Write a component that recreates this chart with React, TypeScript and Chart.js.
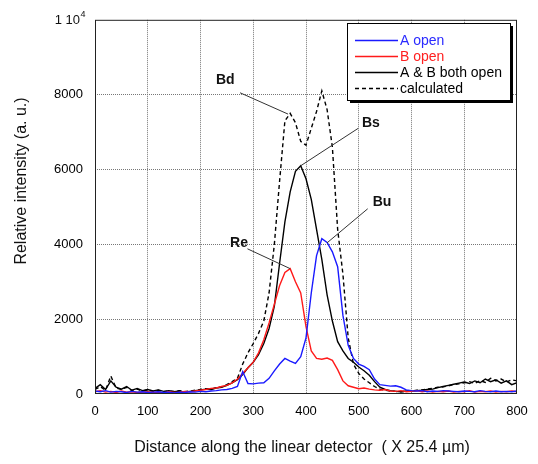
import React, { useEffect, useRef } from "react";
import { Chart, registerables } from "chart.js";

Chart.register(...registerables);

const xs = [0,10,20,30,40,50,60,70,80,90,100,110,120,130,140,150,160,170,180,190,200,210,220,230,240,250,260,270,280,290,300,310,320,330,340,350,360,370,380,390,400,410,420,430,440,450,460,470,480,490,500,510,520,530,540,550,560,570,580,590,600,610,620,630,640,650,660,670,680,690,700,710,720,730,740,750,760,770,780,790,800];

const aOpen = [80,60,90,50,70,60,40,70,50,60,40,50,60,40,50,30,50,40,60,50,70,60,80,90,110,120,150,200,600,280,270,290,300,420,620,800,950,880,820,1000,1500,2700,3700,4150,4050,3800,3400,2100,1300,950,800,740,650,400,250,230,210,220,180,110,90,80,90,60,80,70,90,80,70,60,80,70,60,90,70,60,80,60,70,60,80];

const bOpen = [60,90,50,70,40,80,50,60,40,50,60,40,50,30,60,40,50,70,60,80,100,120,150,160,200,230,300,400,550,700,850,1100,1450,1900,2400,2900,3250,3350,3000,2700,1800,1150,950,930,960,900,650,350,220,180,140,160,130,110,100,120,80,70,90,60,70,90,60,80,50,70,60,80,50,70,60,90,50,70,60,80,50,70,60,80,60];

const bothOpen = [150,250,120,350,180,130,200,100,150,90,120,80,110,70,90,60,80,50,70,90,110,130,120,160,180,230,300,380,520,700,850,1050,1350,1750,2350,3500,4600,5400,5950,6100,5750,5200,4400,3600,2650,1950,1400,1150,950,850,720,620,500,330,180,120,90,70,60,80,70,90,100,120,130,170,200,230,260,290,320,280,350,300,400,330,380,290,350,250,300];

const calculated = [120,200,100,480,160,120,180,90,130,80,110,70,100,60,80,70,90,60,80,100,120,140,130,170,190,250,330,420,800,1100,1350,1620,1950,2700,4000,5700,7300,7500,7250,6750,6650,7100,7550,8100,7600,6600,4400,3200,1500,800,550,400,300,200,130,100,80,70,60,70,80,100,110,130,150,180,190,220,250,270,300,330,280,360,310,420,350,400,320,380,350];

const seriesLabels = ["A open", "B open", "A & B both open", "calculated"];

// annotation labels: [text, textX, textY, lineStartX, lineStartY, targetX, targetY] in data units
const annotations: [string, number, number, number, number, number, number][] = [
  ["Bd", 247, 8400, 275, 8050, 366, 7480],
  ["Bs", 523, 7250, 499, 7100, 390, 6100],
  ["Bu", 544, 5130, 517, 4950, 440, 4040],
  ["Re", 273, 4030, 289, 3880, 370, 3350],
];

const xTitle = "Distance along the linear detector  ( X 25.4 \u00b5m)";
const yTitle = "Relative intensity (a. u.)";

const FONT = "'Liberation Sans', Arial, sans-serif";

export default function App() {
  const ref = useRef<HTMLCanvasElement | null>(null);
  useEffect(() => {
    if (!ref.current) return;
    const mk = (arr: number[]) => xs.map((x, i) => ({ x, y: arr[i] }));
    const colors = ["#1a1aff", "#ff1a1a", "#000000", "#000000"];
    const dashes = [[], [], [], [4, 3]];
    const plugin = {
      id: "custom",
      afterDraw(chart: any) {
        const ctx = chart.ctx as CanvasRenderingContext2D;
        const { left, right, top, bottom } = chart.chartArea;
        const xs_ = chart.scales.x;
        const ys_ = chart.scales.y;
        ctx.save();
        // frame
        ctx.strokeStyle = "#222";
        ctx.lineWidth = 1;
        ctx.setLineDash([]);
        ctx.strokeRect(left + 0.5, top + 0.5, right - left - 1, bottom - top - 1);
        // annotations
        ctx.fillStyle = "#111";
        ctx.font = "bold 14px " + FONT;
        ctx.textAlign = "center";
        ctx.textBaseline = "middle";
        for (const [t, tx, ty, sx, sy, ex, ey] of annotations) {
          ctx.fillText(t, xs_.getPixelForValue(tx), ys_.getPixelForValue(ty));
          ctx.beginPath();
          ctx.moveTo(xs_.getPixelForValue(sx), ys_.getPixelForValue(sy));
          ctx.lineTo(xs_.getPixelForValue(ex), ys_.getPixelForValue(ey));
          ctx.strokeStyle = "#333";
          ctx.lineWidth = 1;
          ctx.stroke();
        }
        // legend
        const lx = 347, ly = 23, lw = 163, lh = 77;
        ctx.fillStyle = "#000";
        ctx.fillRect(lx + 3, ly + 3, lw, lh);
        ctx.fillStyle = "#fff";
        ctx.fillRect(lx, ly, lw, lh);
        ctx.strokeStyle = "#000";
        ctx.strokeRect(lx + 0.5, ly + 0.5, lw, lh);
        ctx.font = "14px " + FONT;
        ctx.textAlign = "left";
        seriesLabels.forEach((lab, i) => {
          const y = ly + 17 + i * 16;
          ctx.beginPath();
          ctx.setLineDash(dashes[i]);
          ctx.strokeStyle = colors[i];
          ctx.lineWidth = 1.3;
          ctx.moveTo(355, y + 0.5);
          ctx.lineTo(398, y + 0.5);
          ctx.stroke();
          ctx.setLineDash([]);
          ctx.fillStyle = i === 0 ? "#2a2aff" : i === 1 ? "#ff2020" : "#000";
          ctx.fillText(lab, 400, y + 1);
        });
        // top tick label 1 10^4
        ctx.fillStyle = "#111";
        ctx.font = "13px " + FONT;
        ctx.textAlign = "right";
        ctx.fillText("1 10", 80, ys_.getPixelForValue(10000) + 1);
        ctx.font = "9px " + FONT;
        ctx.textAlign = "left";
        ctx.fillText("4", 80.5, ys_.getPixelForValue(10000) - 5);
        // axis titles
        ctx.font = "16px " + FONT;
        ctx.textAlign = "center";
        ctx.fillStyle = "#111";
        ctx.fillText(xTitle, 302, 448);
        ctx.translate(22, 181);
        ctx.rotate(-Math.PI / 2);
        ctx.fillText(yTitle, 0, 0);
        ctx.restore();
      },
    };
    const chart = new Chart(ref.current, {
      type: "line",
      data: {
        datasets: [aOpen, bOpen, bothOpen, calculated].map((arr, i) => ({
          label: seriesLabels[i],
          data: mk(arr),
          borderColor: colors[i],
          borderWidth: 1.4,
          borderDash: dashes[i],
          pointRadius: 0,
          tension: 0,
          fill: false,
        })),
      },
      options: {
        animation: false,
        responsive: true,
        maintainAspectRatio: false,
        layout: { padding: { top: 19, right: 21, left: 0, bottom: 0 } },
        plugins: { legend: { display: false }, tooltip: { enabled: false } },
        scales: {
          x: {
            type: "linear",
            min: 0,
            max: 800,
            afterFit: (s: any) => { s.height = 70; },
            ticks: { stepSize: 100, color: "#000", font: { size: 13, family: FONT }, padding: 10, maxRotation: 0 },
            grid: {
              color: (c: any) => (c.tick && (c.tick.value === 0 || c.tick.value === 800) ? "rgba(0,0,0,0)" : "#777"),
              drawTicks: false,
            },
            border: { display: false, dash: [1, 1] },
          },
          y: {
            type: "linear",
            min: 0,
            max: 10000,
            afterFit: (s: any) => { s.width = 95; },
            ticks: {
              stepSize: 2000,
              color: "#000",
              font: { size: 13, family: FONT },
              padding: 12,
              callback: (v: any) => (v === 10000 ? "" : String(v)),
            },
            grid: {
              color: (c: any) => (c.tick && (c.tick.value === 0 || c.tick.value === 10000) ? "rgba(0,0,0,0)" : "#777"),
              drawTicks: false,
            },
            border: { display: false, dash: [1, 1] },
          },
        },
      },
      plugins: [plugin],
    } as any);
    return () => chart.destroy();
  }, []);
  return (
    <div style={{ position: "fixed", left: 0, top: 0, width: 538, height: 464, background: "#fff" }}>
      <canvas ref={ref} />
    </div>
  );
}
